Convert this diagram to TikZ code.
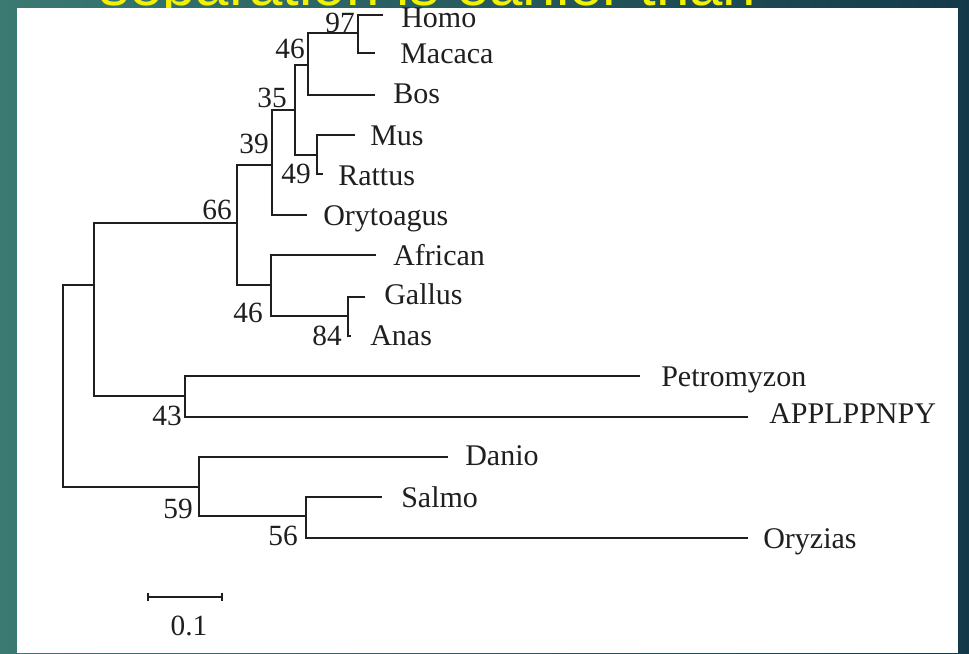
\documentclass[tikz,border=0pt]{standalone}
\usepackage{fontspec}
\setmainfont{Liberation Serif}
\newfontfamily\yellowfont{Liberation Sans}
\usetikzlibrary{arrows.meta}
\definecolor{tealL}{HTML}{3A7A72}
\definecolor{tealR}{HTML}{143A4A}
\definecolor{ttlyellow}{HTML}{F2F200}
\begin{document}
\begin{tikzpicture}[x=0.75pt,y=-0.75pt,
  br/.style={line width=1.6pt,black!88},
  leaf/.style={anchor=base west,inner sep=0pt,text=black!88,font=\fontsize{22.5}{22.5}\selectfont},
  boot/.style={anchor=base east,inner sep=0pt,text=black!88,font=\fontsize{22}{22}\selectfont}]
\useasboundingbox (0,0) rectangle (969,653);
\shade[left color=tealL,right color=tealR] (0,0) rectangle (969,653);
\node[anchor=base west,inner sep=0pt,text=ttlyellow,font=\yellowfont\fontsize{45}{45}\selectfont] (title) at (99,5.5) {separation is earlier than};
\fill[white] (17,7.5) rectangle (958,653) coordinate (panel);

% leaf ends
\coordinate (eHomo) at (383,15);
\coordinate (eMacaca) at (375,53);
\coordinate (eBos) at (375,95);
\coordinate (eMus) at (355,135);
\coordinate (eRattus) at (323,174);
\coordinate (eOry) at (307,215);
\coordinate (eAfr) at (376,255);
\coordinate (eGallus) at (365,297);
\coordinate (eAnas) at (351,336);
\coordinate (ePetro) at (640,376);
\coordinate (eAPP) at (748,417);
\coordinate (eDanio) at (448,457);
\coordinate (eSalmo) at (382,497);
\coordinate (eOryz) at (748,538);
% internal nodes (x of vertical, y of attachment)
\coordinate (n97) at (358,33);
\coordinate (n46a) at (308,65);
\coordinate (n49) at (317,155);
\coordinate (n35) at (295,110);
\coordinate (n39) at (272,165);
\coordinate (n84) at (348,316);
\coordinate (n46b) at (271,285);
\coordinate (n66) at (237,223);
\coordinate (n43) at (185,396);
\coordinate (nA) at (94,285);
\coordinate (n56) at (306,516);
\coordinate (n59) at (199,487);
\coordinate (root) at (63,386);

% branches
\draw[br] (eHomo) -- (n97 |- eHomo) -- (n97 |- eMacaca) -- (eMacaca);
\draw[br] (n97) -- (n46a |- n97) -- (n46a |- eBos) -- (eBos);
\draw[br] (eMus) -- (n49 |- eMus) -- (n49 |- eRattus) -- (eRattus);
\draw[br] (n46a) -- (n35 |- n46a) -- (n35 |- n49) -- (n49);
\draw[br] (n35) -- (n39 |- n35) -- (n39 |- eOry) -- (eOry);
\draw[br] (eGallus) -- (n84 |- eGallus) -- (n84 |- eAnas) -- (eAnas);
\draw[br] (eAfr) -- (n46b |- eAfr) -- (n46b |- n84) -- (n84);
\draw[br] (n39) -- (n66 |- n39) -- (n66 |- n46b) -- (n46b);
\draw[br] (ePetro) -- (n43 |- ePetro) -- (n43 |- eAPP) -- (eAPP);
\draw[br] (n66) -- (nA |- n66) -- (nA |- n43) -- (n43);
\draw[br] (eSalmo) -- (n56 |- eSalmo) -- (n56 |- eOryz) -- (eOryz);
\draw[br] (eDanio) -- (n59 |- eDanio) -- (n59 |- n56) -- (n56);
\draw[br] (nA) -- (root |- nA) -- (root |- n59) -- (n59);

% leaf labels
\node[leaf] (Homo) at (401,27) {Homo};
\node[leaf] (Macaca) at (400,63) {Macaca};
\node[leaf] (Bos) at (393,103) {Bos};
\node[leaf] (Mus) at (370,145) {Mus};
\node[leaf] (Rattus) at (338,185) {Rattus};
\node[leaf] (Orytoagus) at (323,225) {Orytoagus};
\node[leaf] (African) at (393,265) {African};
\node[leaf] (Gallus) at (384,304) {Gallus};
\node[leaf] (Anas) at (370,345) {Anas};
\node[leaf] (Petromyzon) at (661,386) {Petromyzon};
\node[leaf] (APPLPPNPY) at (769,423) {APPLPPNPY};
\node[leaf] (Danio) at (465,465) {Danio};
\node[leaf] (Salmo) at (401,507) {Salmo};
\node[leaf] (Oryzias) at (763,548) {Oryzias};

% bootstrap values
\node[boot] (b97) at (355,32) {97};
\node[boot] (b46a) at (305,58) {46};
\node[boot] (b35) at (287,107) {35};
\node[boot] (b39) at (269,153) {39};
\node[boot] (b49) at (311,183) {49};
\node[boot] (b66) at (232,219) {66};
\node[boot] (b46b) at (263,322) {46};
\node[boot] (b84) at (342,345) {84};
\node[boot] (b43) at (182,425) {43};
\node[boot] (b59) at (193,518) {59};
\node[boot] (b56) at (298,545) {56};

% scale bar
\coordinate (sb1) at (147,597);
\coordinate (sb2) at (223,597);
\draw[br,{Bar[width=6.5pt]}-{Bar[width=6.5pt]}] (sb1) -- (sb2);
\node[anchor=base,inner sep=0pt,text=black!88,font=\fontsize{22}{22}\selectfont] (sblabel) at (189,635) {0.1};
\end{tikzpicture}
\end{document}
